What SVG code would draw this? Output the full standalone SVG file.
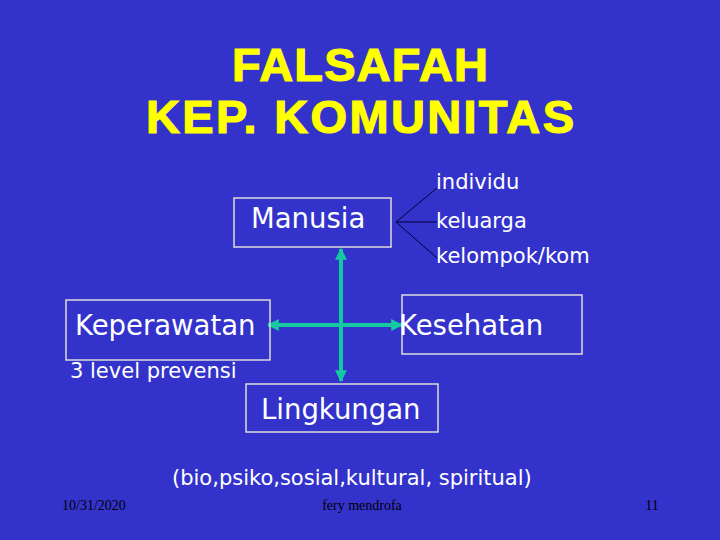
<svg xmlns="http://www.w3.org/2000/svg" width="720" height="540" viewBox="0 0 720 540">
<style>
.title{font-family:"Liberation Sans",Arial,sans-serif;font-weight:bold;font-size:47px;fill:#FFFF00;stroke:#FFFF00;stroke-width:1.2;text-anchor:middle}
.big{font-family:"DejaVu Sans",Verdana,sans-serif;font-size:27.5px;fill:#FFFFFF}
.small{font-family:"DejaVu Sans",Verdana,sans-serif;font-size:21px;fill:#FFFFFF}
.foot{font-family:"Liberation Serif","Times New Roman",serif;font-size:14px;fill:#000000}
.box{fill:none;stroke:#DDDDDD;stroke-width:1.5}
.conn{stroke:#14C8A0;stroke-width:4;fill:none}
.thin{stroke:#000033;stroke-width:1;fill:none}
</style>
<defs>
<marker id="ah" viewBox="0 0 10 10" refX="9" refY="5" markerWidth="3" markerHeight="3" orient="auto-start-reverse">
<path d="M0,0 L10,5 L0,10 Z" fill="#14C8A0"/>
</marker>
</defs>
<rect width="720" height="540" fill="#3333CC"/>
<g id="title">
<text class="title" x="360" y="81" textLength="256" lengthAdjust="spacing">FALSAFAH</text>
<text class="title" x="360" y="133" textLength="428" lengthAdjust="spacing">KEP. KOMUNITAS</text>
</g>
<g id="connectors">
<line class="conn" x1="341" y1="249" x2="341" y2="381" marker-start="url(#ah)" marker-end="url(#ah)"/>
<line class="conn" x1="268" y1="325" x2="402" y2="325" marker-start="url(#ah)" marker-end="url(#ah)"/>
<path class="thin" d="M396,222 L437,188 M396,222 L437,222 M396,222 L437,258"/>
</g>
<g id="manusia">
<rect class="box" x="234" y="198" width="157" height="49"/>
<text class="big" x="251" y="228">Manusia</text>
</g>
<g id="individu"><text class="small" x="436" y="189">individu</text></g>
<g id="keluarga"><text class="small" x="436" y="228">keluarga</text></g>
<g id="kelompok"><text class="small" x="436" y="263">kelompok/kom</text></g>
<g id="keperawatan">
<rect class="box" x="66" y="300" width="204" height="60"/>
<text class="big" x="75" y="335">Keperawatan</text>
<text class="small" x="70" y="378">3 level prevensi</text>
</g>
<g id="kesehatan">
<rect class="box" x="402" y="295" width="180" height="59"/>
<text class="big" x="399" y="335">Kesehatan</text>
</g>
<g id="lingkungan">
<rect class="box" x="246" y="384" width="192" height="48"/>
<text class="big" x="261" y="419">Lingkungan</text>
<text class="small" x="172" y="485">(bio,psiko,sosial,kultural, spiritual)</text>
</g>
<g id="footer">
<text class="foot" x="62" y="510">10/31/2020</text>
<text class="foot" x="362" y="510" text-anchor="middle">fery mendrofa</text>
<text class="foot" x="652" y="510" text-anchor="middle">11</text>
</g>
</svg>
